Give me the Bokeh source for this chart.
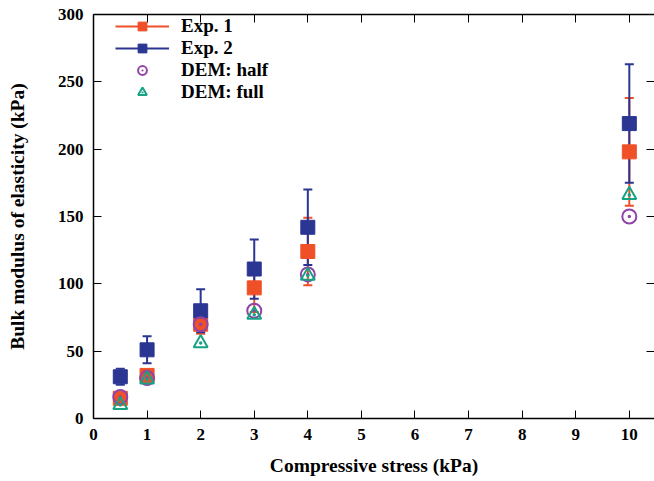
from bokeh.plotting import figure
from bokeh.models import (ColumnDataSource, Whisker, TeeHead, Legend, LegendItem,
                          LinearAxis, FixedTicker, Range1d)
from bokeh.embed import file_html
from bokeh.resources import INLINE

# ---- data ----
stress = [0.5, 1, 2, 3, 4, 10]
exp1 = [15, 32, 70, 97, 124, 198]
exp1_err = [3, 4, 7, 18, 25, 40]
exp2 = [31, 51, 80, 111, 142, 219]
exp2_err = [6, 10, 16, 22, 28, 44]
dem_half = [16, 30, 70, 80, 107, 150]
dem_full = [10, 29, 56, 77, 106, 166]
x_ticks = [0, 1, 2, 3, 4, 5, 6, 7, 8, 9, 10]
y_ticks = [0, 50, 100, 150, 200, 250, 300]

C1 = "#ef5028"
C2 = "#2b3592"
C3 = "#8e44a8"
C4 = "#15a384"
FONT = "Liberation Serif"

p = figure(width=654, height=481, output_backend="svg", toolbar_location=None,
           x_range=Range1d(0, 10.47), y_range=Range1d(0, 300),
           min_border_left=93, min_border_top=14, min_border_bottom=63,
           min_border_right=0)
p.xgrid.visible = False
p.ygrid.visible = False
p.outline_line_color = None
p.background_fill_color = "white"
p.border_fill_color = "white"

def style_axis(ax, labels=True, line=True):
    ax.major_tick_in = 8
    ax.major_tick_out = 0
    ax.minor_tick_in = 0
    ax.minor_tick_out = 0
    ax.axis_line_color = "black" if line else None
    ax.axis_line_width = 1.5
    ax.major_tick_line_color = "black"
    ax.major_tick_line_width = 1
    ax.major_label_text_font = FONT
    ax.major_label_text_font_style = "bold"
    ax.major_label_text_font_size = "17px"
    ax.major_label_text_color = "black"
    ax.axis_label_text_font = FONT
    ax.axis_label_text_font_style = "bold"
    ax.axis_label_text_font_size = "19.5px"
    ax.axis_label_text_color = "black"
    if not labels:
        ax.major_label_text_font_size = "0px"
        ax.major_label_text_alpha = 0

p.xaxis.ticker = FixedTicker(ticks=x_ticks)
p.yaxis.ticker = FixedTicker(ticks=y_ticks)
p.xaxis.axis_label = "Compressive stress (kPa)"
p.yaxis.axis_label = "Bulk modulus of elasticity (kPa)"
style_axis(p.xaxis[0])
style_axis(p.yaxis[0])
p.xaxis.major_label_standoff = 10
p.yaxis.major_label_standoff = 10
p.xaxis.axis_label_standoff = 12
p.yaxis.axis_label_standoff = 27

ax_top = LinearAxis(ticker=FixedTicker(ticks=x_ticks))
style_axis(ax_top, labels=False)
p.add_layout(ax_top, "above")
ax_right = LinearAxis(ticker=FixedTicker(ticks=y_ticks))
style_axis(ax_right, labels=False, line=False)
p.add_layout(ax_right, "right")

def series(y, err, color):
    src = ColumnDataSource(dict(x=stress, y=y,
                                lo=[a - b for a, b in zip(y, err)],
                                hi=[a + b for a, b in zip(y, err)]))
    w = Whisker(source=src, base="x", upper="hi", lower="lo",
                line_color=color, line_width=2,
                upper_head=TeeHead(size=9, line_color=color, line_width=2),
                lower_head=TeeHead(size=9, line_color=color, line_width=2))
    p.add_layout(w)
    r = p.scatter("x", "y", source=src, marker="square", size=14,
                  fill_color=color, line_color=color)
    return r

r1 = series(exp1, exp1_err, C1)
r2 = series(exp2, exp2_err, C2)
r3 = p.scatter(stress, dem_half, marker="circle_dot", size=14, fill_color=None,
               line_color=C3, line_width=2)
r4 = p.scatter(stress, dem_full, marker="triangle_dot", size=14, fill_color=None,
               line_color=C4, line_width=2)

# legend proxies (horizontal error bars)
l1 = p.line([None], [None], line_color=C1, line_width=2)
l2 = p.line([None], [None], line_color=C2, line_width=2)

legend = Legend(items=[
    LegendItem(label="Exp. 1", renderers=[l1, r1]),
    LegendItem(label="Exp. 2", renderers=[l2, r2]),
    LegendItem(label="DEM: half", renderers=[r3]),
    LegendItem(label="DEM: full", renderers=[r4]),
], location=(22, 315))
legend.border_line_color = None
legend.background_fill_alpha = 0
legend.label_text_font = FONT
legend.label_text_font_style = "bold"
legend.label_text_font_size = "19px"
legend.label_text_color = "black"
legend.glyph_width = 54
legend.glyph_height = 22
legend.label_height = 22
legend.spacing = 0
legend.padding = 0
legend.margin = 0
legend.label_standoff = 12
p.add_layout(legend)

open("out.html", "w").write(file_html(p, INLINE))
